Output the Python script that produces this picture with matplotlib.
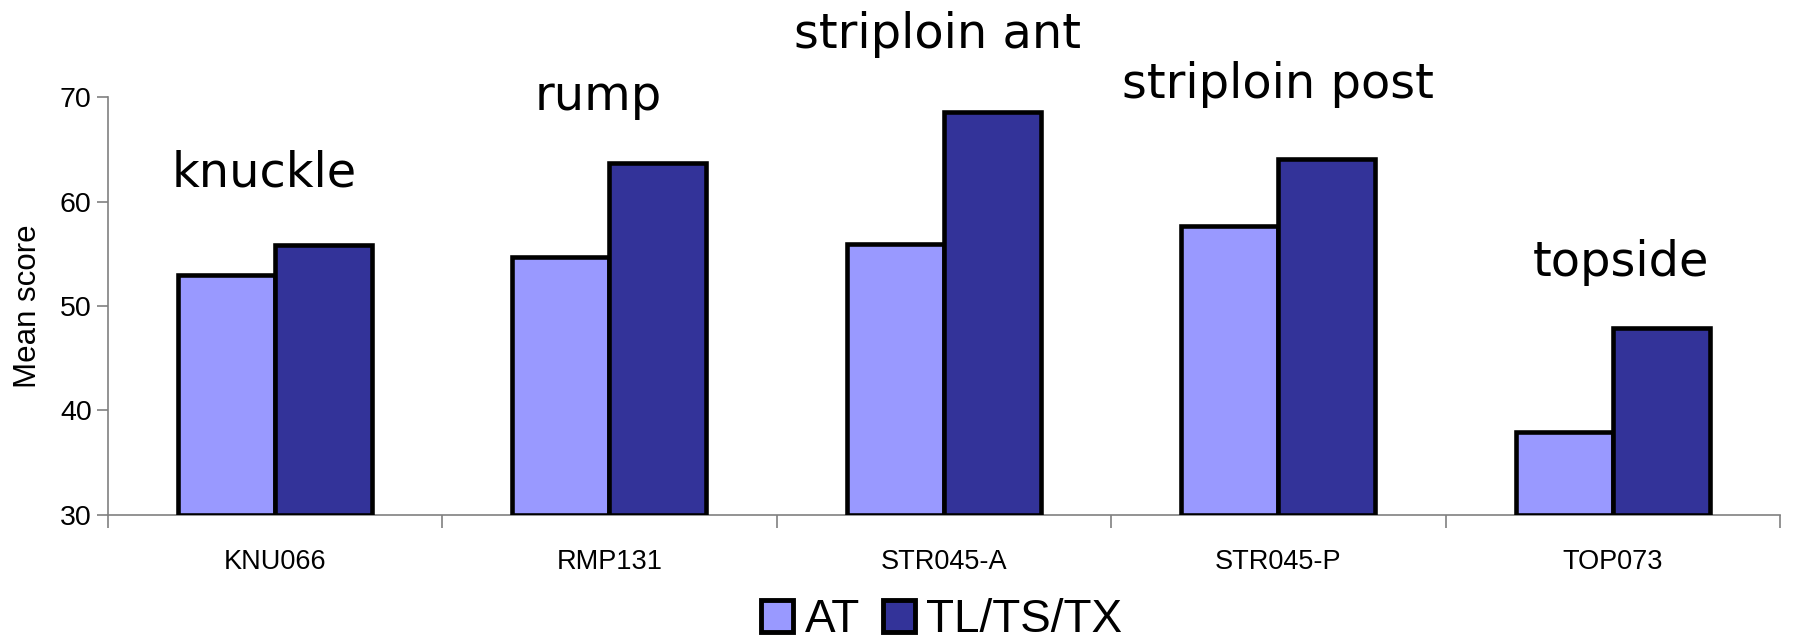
import matplotlib
matplotlib.use("Agg")
import matplotlib.pyplot as plt
from matplotlib.patches import Patch
from matplotlib.ticker import FixedLocator
import numpy as np

categories = ["KNU066", "RMP131", "STR045-A", "STR045-P", "TOP073"]
cut_names = ["knuckle", "rump", "striploin ant", "striploin post", "topside"]
at_scores = [53.0, 54.7, 55.9, 57.7, 37.9]
tl_scores = [55.8, 63.7, 68.6, 64.1, 47.9]
# where the cut names sit: x offset from the group centre, baseline in score units
cut_label_dx = [-0.032, -0.034, -0.02, 0.0, 0.024]
cut_label_y = [61.4, 68.8, 74.7, 69.9, 52.9]

plt.rcParams["font.family"] = ["Liberation Sans", "DejaVu Sans"]

fig = plt.figure(figsize=(17.97, 6.40), dpi=100)
ax = fig.add_axes([0.0599, 0.196, 0.9307, 0.652])

x = np.arange(len(categories))
w = 0.29
ax.bar(x - w / 2, [v - 30 for v in at_scores], w, bottom=30, color="#9999FF",
       edgecolor="black", linewidth=3.3, label="AT", zorder=3)
ax.bar(x + w / 2, [v - 30 for v in tl_scores], w, bottom=30, color="#333399",
       edgecolor="black", linewidth=3.3, label="TL/TS/TX", zorder=3)

for xi, dx, name, yi in zip(x, cut_label_dx, cut_names, cut_label_y):
    ax.text(xi + dx, yi, name, ha="center", va="baseline", fontsize=34.5,
            family="DejaVu Sans", clip_on=False)

ax.set_xlim(-0.5, len(categories) - 0.5)
ax.set_ylim(30, 70)
ax.set_yticks([30, 40, 50, 60, 70])
ax.set_xticks(x)
ax.set_xticklabels(categories, fontsize=19.5)
ax.xaxis.set_minor_locator(FixedLocator(np.arange(-0.5, len(categories), 1.0)))
ax.tick_params(axis="x", which="major", length=0, pad=25)
ax.tick_params(axis="x", which="minor", length=9, width=1.2, color="#808080")
ax.tick_params(axis="y", labelsize=20.5, length=8, width=1.2, color="#808080")
ax.set_ylabel("Mean score", fontsize=22.5, labelpad=12)

for s in ["top", "right"]:
    ax.spines[s].set_visible(False)
for s in ["left", "bottom"]:
    ax.spines[s].set_color("#808080")
    ax.spines[s].set_linewidth(1.2)

handles = [Patch(facecolor="#9999FF", edgecolor="black", linewidth=3.5),
           Patch(facecolor="#333399", edgecolor="black", linewidth=3.5)]
fig.legend(handles, ["AT", "TL/TS/TX"], loc="center", bbox_to_anchor=(0.524, 0.031),
           ncol=2, frameon=False, fontsize=33, handlelength=0.7, handleheight=0.7,
           handletextpad=0.25, columnspacing=0.5)

fig.savefig("out.png", dpi=100)
